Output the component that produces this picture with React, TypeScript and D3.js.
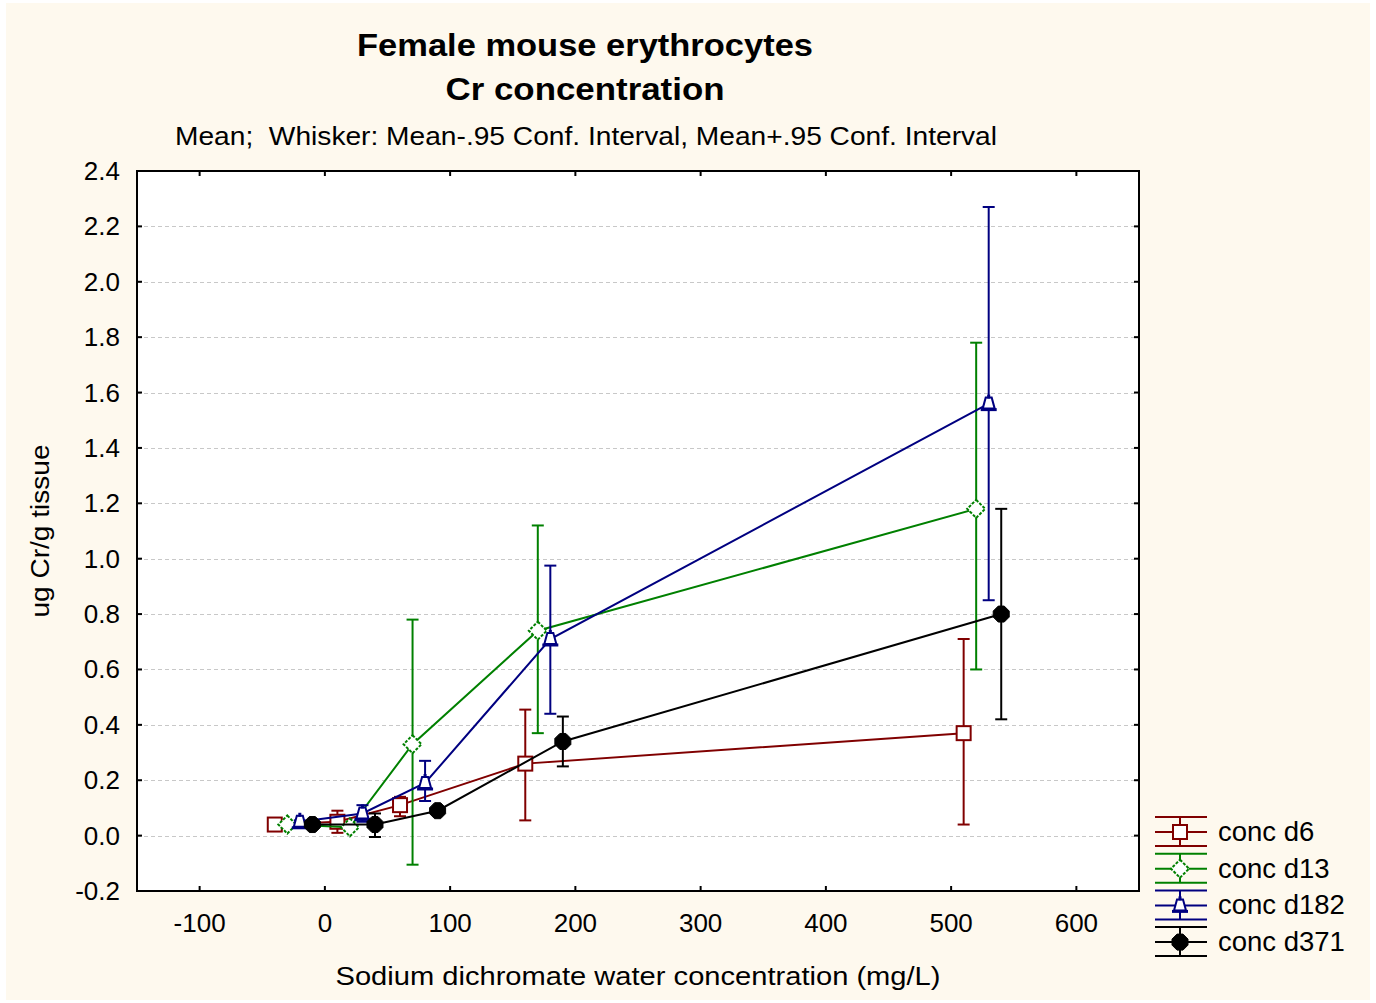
import React from 'react'
import * as d3 from 'd3'

// --- data ---
const seriesNames = ['conc d6', 'conc d13', 'conc d182', 'conc d371']
const seriesColors = ['#800000', '#008000', '#000080', '#000000']
const seriesMarkers = ['square', 'diamond', 'triangle', 'filled']

const d6X = [-40, 10, 60, 160, 510]
const d6Mean = [0.04, 0.05, 0.11, 0.26, 0.37]
const d6Lo = [0.035, 0.01, 0.07, 0.055, 0.04]
const d6Hi = [0.045, 0.09, 0.14, 0.455, 0.71]

const d13X = [-30, 20, 70, 170, 520]
const d13Mean = [0.04, 0.03, 0.33, 0.74, 1.18]
const d13Lo = [0.035, 0.025, -0.105, 0.37, 0.6]
const d13Hi = [0.045, 0.035, 0.78, 1.12, 1.78]

const d182X = [-20, 30, 80, 180, 530]
const d182Mean = [0.05, 0.08, 0.19, 0.71, 1.56]
const d182Lo = [0.045, 0.05, 0.125, 0.44, 0.85]
const d182Hi = [0.055, 0.11, 0.27, 0.975, 2.27]

const d371X = [-10, 40, 90, 190, 540]
const d371Mean = [0.04, 0.04, 0.09, 0.34, 0.8]
const d371Lo = [0.035, -0.005, 0.085, 0.25, 0.42]
const d371Hi = [0.045, 0.08, 0.095, 0.43, 1.18]

const xTicks = [-100, 0, 100, 200, 300, 400, 500, 600]
const yTicks = [-0.2, 0, 0.2, 0.4, 0.6, 0.8, 1.0, 1.2, 1.4, 1.6, 1.8, 2.0, 2.2, 2.4]

const seriesX = [d6X, d13X, d182X, d371X]
const seriesMean = [d6Mean, d13Mean, d182Mean, d371Mean]
const seriesLo = [d6Lo, d13Lo, d182Lo, d371Lo]
const seriesHi = [d6Hi, d13Hi, d182Hi, d371Hi]

const W = 1376
const H = 1003
const plot = { left: 137, right: 1139, top: 171, bottom: 891 }
const FONT = '"Liberation Sans", Arial, sans-serif'

function Marker({ kind, color, x, y }: { kind: string; color: string; x: number; y: number }) {
  const r = 8
  if (kind === 'square') {
    return <rect x={x - r + 1} y={y - r + 1} width={2 * r - 2} height={2 * r - 2} fill="#fff" stroke={color} strokeWidth={2} />
  }
  if (kind === 'diamond') {
    const p = `${x},${y - r - 1} ${x + r + 1},${y} ${x},${y + r + 1} ${x - r - 1},${y}`
    return <polygon points={p} fill="#fff" stroke={color} strokeWidth={2} strokeDasharray="3,1.5" />
  }
  if (kind === 'triangle') {
    const p = `${x - 3},${y - r + 2} ${x + 3},${y - r + 2} ${x + 6},${y + r - 3} ${x - 6},${y + r - 3}`
    return (
      <g>
        <polygon points={p} fill="#fff" stroke={color} strokeWidth={2} />
        <line x1={x - r} x2={x + r} y1={y + r - 2} y2={y + r - 2} stroke={color} strokeWidth={3} />
        <line x1={x} x2={x} y1={y - r - 1} y2={y - r + 3} stroke={color} strokeWidth={3} />
      </g>
    )
  }
  const p = `${x - 3},${y - r} ${x + 3},${y - r} ${x + r},${y - 3} ${x + r},${y + 3} ${x + 3},${y + r} ${x - 3},${y + r} ${x - r},${y + 3} ${x - r},${y - 3}`
  return <polygon points={p} fill={color} stroke={color} strokeWidth={1} />
}

export default function App() {
  const x = d3.scaleLinear().domain([-150, 650]).range([plot.left, plot.right])
  const y = d3.scaleLinear().domain([-0.2, 2.4]).range([plot.bottom, plot.top])
  const line = d3.line()
  const cap = 6

  return (
    <svg width={W} height={H} style={{ position: 'absolute', left: 0, top: 0, fontFamily: FONT }}>
      <rect x={0} y={0} width={W} height={H} fill="#ffffff" />
      <rect x={6} y={3} width={W - 12} height={H - 6} fill="#fef9ee" />
      <rect x={plot.left} y={plot.top} width={plot.right - plot.left} height={plot.bottom - plot.top} fill="#ffffff" />

      {/* titles */}
      <text x={585} y={56} textAnchor="middle" fontSize={32} fontWeight="bold" textLength={456} lengthAdjust="spacingAndGlyphs">Female mouse erythrocytes</text>
      <text x={585} y={100} textAnchor="middle" fontSize={32} fontWeight="bold" textLength={279} lengthAdjust="spacingAndGlyphs">Cr concentration</text>
      <text x={586} y={145} textAnchor="middle" fontSize={26} textLength={822} lengthAdjust="spacingAndGlyphs" style={{ whiteSpace: 'pre' }}>Mean;  Whisker: Mean-.95 Conf. Interval, Mean+.95 Conf. Interval</text>

      {/* grid */}
      {yTicks.filter(t => t > -0.2 && t < 2.4).map(t => (
        <line key={'g' + t} x1={plot.left} x2={plot.right} y1={Math.round(y(t)) + 0.5} y2={Math.round(y(t)) + 0.5} stroke="#c8c8c8" strokeWidth={1} strokeDasharray="4,3" />
      ))}

      {/* series */}
      {seriesNames.map((name, s) => {
        const color = seriesColors[s]
        const xs = seriesX[s]
        const pts = xs.map((v, i) => [x(v), y(seriesMean[s][i])] as [number, number])
        return (
          <g key={name}>
            <path d={line(pts) || ''} fill="none" stroke={color} strokeWidth={2} />
            {xs.map((v, i) => {
              const cx = x(v)
              const lo = y(seriesLo[s][i])
              const hi = y(seriesHi[s][i])
              return (
                <g key={i}>
                  <line x1={cx} x2={cx} y1={lo} y2={hi} stroke={color} strokeWidth={2} />
                  <line x1={cx - cap} x2={cx + cap} y1={lo} y2={lo} stroke={color} strokeWidth={2} />
                  <line x1={cx - cap} x2={cx + cap} y1={hi} y2={hi} stroke={color} strokeWidth={2} />
                </g>
              )
            })}
            {pts.map((p, i) => <Marker key={'m' + i} kind={seriesMarkers[s]} color={color} x={p[0]} y={p[1]} />)}
          </g>
        )
      })}

      {/* frame and ticks */}
      <rect x={plot.left} y={plot.top} width={plot.right - plot.left} height={plot.bottom - plot.top} fill="none" stroke="#000" strokeWidth={2} />
      {xTicks.map(t => (
        <g key={'x' + t}>
          <line x1={x(t)} x2={x(t)} y1={plot.bottom} y2={plot.bottom - 5} stroke="#000" strokeWidth={2} />
          <line x1={x(t)} x2={x(t)} y1={plot.top} y2={plot.top + 5} stroke="#000" strokeWidth={2} />
          <text x={x(t)} y={932} textAnchor="middle" fontSize={26}>{String(t)}</text>
        </g>
      ))}
      {yTicks.map(t => (
        <g key={'y' + t}>
          <line x1={plot.left} x2={plot.left + 5} y1={y(t)} y2={y(t)} stroke="#000" strokeWidth={2} />
          <line x1={plot.right} x2={plot.right - 5} y1={y(t)} y2={y(t)} stroke="#000" strokeWidth={2} />
          <text x={120} y={y(t) + 9} textAnchor="end" fontSize={26}>{t.toFixed(1)}</text>
        </g>
      ))}

      {/* axis titles */}
      <text x={638} y={985} textAnchor="middle" fontSize={26} textLength={605} lengthAdjust="spacingAndGlyphs">Sodium dichromate water concentration (mg/L)</text>
      <text transform="translate(49,531) rotate(-90)" textAnchor="middle" fontSize={26} textLength={173} lengthAdjust="spacingAndGlyphs">ug Cr/g tissue</text>

      {/* legend */}
      {seriesNames.map((name, s) => {
        const cy = 832 + s * 36.7
        const color = seriesColors[s]
        return (
          <g key={'l' + name}>
            <line x1={1155} x2={1207} y1={cy - 15} y2={cy - 15} stroke={color} strokeWidth={2} />
            <line x1={1155} x2={1207} y1={cy} y2={cy} stroke={color} strokeWidth={2} />
            <line x1={1155} x2={1207} y1={cy + 14} y2={cy + 14} stroke={color} strokeWidth={2} />
            <line x1={1180} x2={1180} y1={cy - 15} y2={cy + 14} stroke={color} strokeWidth={2} />
            <Marker kind={seriesMarkers[s]} color={color} x={1180} y={cy} />
            <text x={1218} y={cy + 9} fontSize={27.5}>{name}</text>
          </g>
        )
      })}
    </svg>
  )
}
